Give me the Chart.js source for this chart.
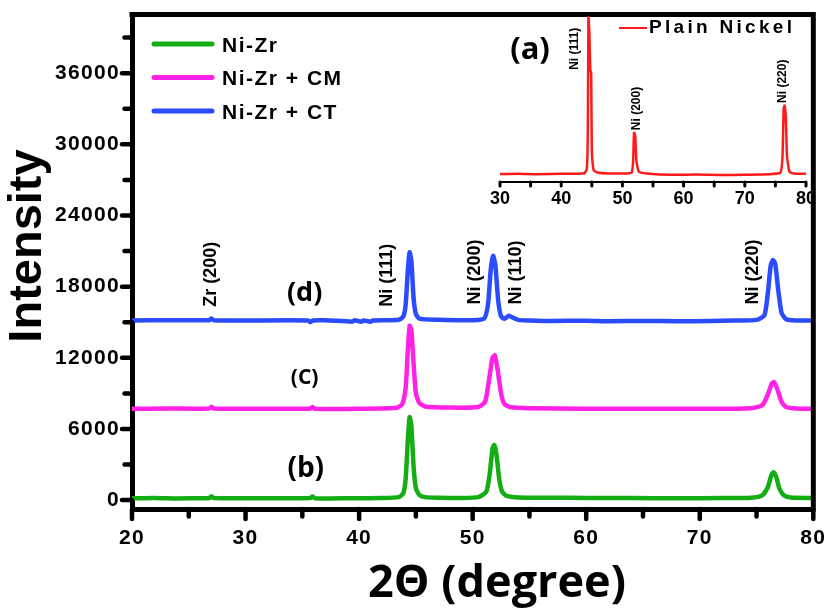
<!DOCTYPE html>
<html>
<head>
<meta charset="utf-8">
<script src="https://cdn.jsdelivr.net/npm/chart.js@4.4.1/dist/chart.umd.min.js"></script>
<style>
  html, body { margin: 0; padding: 0; background: #fff; }
  #wrap { position: relative; width: 832px; height: 616px; }
  #main { position: absolute; left: 0; top: 0; }
  #inset { position: absolute; left: 440px; top: 0; }
</style>
</head>
<body>
<div id="wrap">
  <canvas id="main" width="832" height="616"></canvas>
  <canvas id="inset" width="392" height="220"></canvas>
</div>
<script>
// 2theta / intensity pairs
const niZr = [
  [20, 150], [22, 180], [24, 140], [26, 160], [26.8, 170], [27.0, 330], [27.2, 170],
  [30, 150], [33, 160], [35.7, 170], [35.9, 300], [36.1, 160], [39, 150], [42, 170],
  [43.5, 250], [43.9, 600], [44.1, 1800], [44.3, 5200], [44.45, 7000], [44.6, 6300],
  [44.8, 2800], [45.0, 1000], [45.3, 450], [45.8, 250], [47, 200], [49, 180],
  [50.5, 250], [51.2, 700], [51.5, 2200], [51.75, 4350], [51.9, 4650], [52.1, 3800],
  [52.35, 1700], [52.6, 700], [53.0, 350], [54, 220], [57, 200], [60, 180], [64, 170],
  [68, 160], [72, 170], [74.5, 200], [75.5, 400], [76.0, 1100], [76.3, 2100],
  [76.5, 2350], [76.75, 1900], [77.0, 1000], [77.4, 400], [78, 220], [80, 180]
];
const niZrCM = [
  [20, 7700], [23, 7720], [26.8, 7720], [27.0, 7880], [27.2, 7720], [30, 7700],
  [35.7, 7710], [35.9, 7850], [36.1, 7700], [40, 7700], [43.3, 7780], [43.8, 8100],
  [44.1, 9500], [44.3, 12800], [44.45, 14700], [44.6, 14300], [44.8, 11500],
  [45.0, 9000], [45.3, 8200], [45.8, 7900], [48, 7800], [50.5, 7850], [51.1, 8300],
  [51.45, 10200], [51.75, 12000], [51.95, 12200], [52.2, 11000], [52.5, 9000],
  [52.8, 8100], [53.3, 7850], [55, 7750], [60, 7700], [65, 7700], [70, 7700],
  [74.5, 7750], [75.5, 8000], [76.0, 8900], [76.35, 9850], [76.55, 9950],
  [76.85, 9300], [77.2, 8300], [77.6, 7850], [78.5, 7720], [80, 7700]
];
const niZrCT = [
  [20, 15150], [23, 15170], [26.8, 15170], [27.0, 15320], [27.2, 15160], [30, 15150],
  [35.5, 15150], [35.7, 15000], [35.9, 15150], [37, 15160], [39.4, 15050],
  [39.6, 15160], [40.2, 15040], [40.4, 15150], [41, 15050], [41.2, 15150],
  [43.5, 15200], [43.9, 15500], [44.1, 16500], [44.3, 19500], [44.45, 20900],
  [44.6, 20200], [44.8, 17000], [45.0, 15700], [45.3, 15300], [47, 15200],
  [50, 15170], [51.0, 15300], [51.35, 16500], [51.6, 19500], [51.8, 20600],
  [52.0, 19800], [52.25, 16800], [52.5, 15500], [52.8, 15300], [53.2, 15550],
  [53.5, 15400], [54, 15200], [55, 15150], [57, 15100], [60, 15130], [62, 15080],
  [65, 15110], [68, 15090], [71, 15100], [73, 15140], [75, 15200], [75.7, 15600],
  [76.0, 17500], [76.25, 19800], [76.45, 20250], [76.65, 19900], [76.9, 17800],
  [77.2, 15800], [77.6, 15250], [78.5, 15150], [80, 15150]
];
// inset (a), relative intensity
const plainNickel = [
  [30, 4.7], [33, 4.9], [36, 4.6], [40, 4.8], [43.8, 5.2], [44.2, 8], [44.35, 30],
  [44.45, 97], [44.6, 88], [44.75, 66], [44.9, 64], [45.0, 20], [45.3, 7], [46, 5.5],
  [50, 5.0], [51.5, 5.5], [51.75, 12], [51.9, 29], [52.1, 27], [52.3, 12], [52.7, 6],
  [54, 5], [58, 4.2], [62, 4.4], [66, 4.1], [70, 4.3], [74, 4.6], [75.8, 5.5],
  [76.15, 14], [76.35, 43], [76.5, 45], [76.7, 38], [76.9, 15], [77.3, 6], [78, 5],
  [80, 4.8]
];

const seriesNames = ['Ni-Zr', 'Ni-Zr + CM', 'Ni-Zr + CT'];
const seriesColors = ['#14ad14', '#ff22e6', '#2b4bff'];
const insetName = 'Plain Nickel';
const insetColor = '#ff1a1a';

// tick marks (major + minor) and the ones that carry labels
const xTicks = [20, 25, 30, 35, 40, 45, 50, 55, 60, 65, 70, 75, 80];
const xTickLabels = [20, 30, 40, 50, 60, 70, 80];
const yTicks = [0, 3000, 6000, 9000, 12000, 15000, 18000, 21000, 24000, 27000,
  30000, 33000, 36000, 39000];
const yTickLabels = [0, 6000, 12000, 18000, 24000, 30000, 36000];
const insetTicks = [30, 35, 40, 45, 50, 55, 60, 65, 70, 75, 80];
const insetTickLabels = [30, 40, 50, 60, 70, 80];

// peak labels: [text, 2theta, intensity where text starts]
const mainPeakLabels = [
  ['Zr (200)', 27.0, 16300], ['Ni (111)', 42.5, 16300], ['Ni (200)', 50.2, 16500],
  ['Ni (110)', 53.8, 16500], ['Ni (220)', 74.7, 16500]
];
const curveLabels = [
  ['(d)', 35.2, 17400, 27], ['(C)', 35.2, 10300, 21], ['(b)', 35.3, 2650, 28]
];
const insetPeakLabels = [
  ['Ni (111)', 42.25, 66], ['Ni (200)', 52.4, 30.5], ['Ni (220)', 76.2, 46.5]
];

const boldArial = 'bold 21px "Liberation Sans", Arial, sans-serif';

// thick outward tick marks at the scale's own tick values
function drawTicks(chart, width, len, major) {
  const ctx = chart.ctx;
  const a = chart.chartArea;
  ctx.save();
  ctx.strokeStyle = '#000';
  ctx.lineCap = 'round';
  Object.values(chart.scales).forEach(s => {
    if (!s.options.display) return;
    s.ticks.forEach(t => {
      const p = s.getPixelForValue(t.value);
      const l = major.includes(t.value) ? len : len * 0.75;
      ctx.lineWidth = width;
      ctx.beginPath();
      if (s.isHorizontal()) { ctx.moveTo(p, a.bottom); ctx.lineTo(p, a.bottom + l); }
      else { ctx.moveTo(a.left, p); ctx.lineTo(a.left - l, p); }
      ctx.stroke();
    });
  });
  ctx.restore();
}

const frameAndText = {
  id: 'frameAndText',
  beforeDraw(chart) { chart.ctx.letterSpacing = '1.3px'; },
  afterDraw(chart) {
    const ctx = chart.ctx;
    const a = chart.chartArea;
    const xs = chart.scales.x, ys = chart.scales.y;
    ctx.save();
    ctx.letterSpacing = '0px';
    drawTicks(chart, 4.5, 10, xTickLabels.concat(yTickLabels));
    // top and right frame
    ctx.strokeStyle = '#000';
    ctx.lineWidth = 5;
    ctx.lineCap = 'square';
    ctx.beginPath();
    ctx.moveTo(a.left, a.top);
    ctx.lineTo(a.right, a.top);
    ctx.lineTo(a.right, a.bottom);
    ctx.stroke();

    ctx.fillStyle = '#000';
    // rotated peak labels
    ctx.font = 'bold 18px "Liberation Sans", Arial, sans-serif';
    ctx.textAlign = 'left';
    ctx.textBaseline = 'middle';
    mainPeakLabels.forEach(([t, xv, yv]) => {
      ctx.save();
      ctx.translate(xs.getPixelForValue(xv), ys.getPixelForValue(yv));
      ctx.rotate(-Math.PI / 2);
      ctx.fillText(t, 0, 0);
      ctx.restore();
    });
    // curve labels
    ctx.textAlign = 'center';
    curveLabels.forEach(([t, xv, yv, size]) => {
      ctx.font = 'bold ' + size + 'px "Open Sans", sans-serif';
      ctx.fillText(t, xs.getPixelForValue(xv), ys.getPixelForValue(yv));
    });

    // legend
    ctx.letterSpacing = '1.5px';
    ctx.font = boldArial;
    ctx.textAlign = 'left';
    chart.data.datasets.forEach((ds, i) => {
      const y = 44 + i * 33.5;
      ctx.strokeStyle = ds.borderColor;
      ctx.lineWidth = 5;
      ctx.lineCap = 'round';
      ctx.beginPath();
      ctx.moveTo(154, y);
      ctx.lineTo(212, y);
      ctx.stroke();
      ctx.fillStyle = '#000';
      ctx.fillText(ds.label, 222, y + 2);
    });

    // axis titles
    ctx.letterSpacing = '0px';
    ctx.save();
    ctx.translate(41, 246);
    ctx.rotate(-Math.PI / 2);
    ctx.font = 'bold 47px "Liberation Sans", Arial, sans-serif';
    ctx.textAlign = 'center';
    ctx.textBaseline = 'alphabetic';
    ctx.fillText('Intensity', 0, 0);
    ctx.restore();

    ctx.font = 'bold 45px "Open Sans", sans-serif';
    ctx.textAlign = 'center';
    ctx.textBaseline = 'alphabetic';
    ctx.fillText('2\u0398 (degree)', 497, 597);
    ctx.restore();
  }
};

const tickFont = { family: '"Liberation Sans", Arial, sans-serif', size: 21, weight: 'bold' };
const axisGrid = { drawOnChartArea: false, tickLength: 10, tickColor: 'rgba(0,0,0,0)' };

new Chart(document.getElementById('main'), {
  type: 'line',
  data: {
    datasets: [niZr, niZrCM, niZrCT].map((d, i) => ({
      label: seriesNames[i],
      data: d,
      borderColor: seriesColors[i],
      borderWidth: 4.5,
      pointRadius: 0,
      tension: 0.2,
      borderJoinStyle: 'round',
      borderCapStyle: 'round',
      fill: false
    }))
  },
  options: {
    responsive: false,
    animation: false,
    devicePixelRatio: 1,
    layout: { padding: { top: 6, right: 17, left: 0, bottom: 0 } },
    plugins: { legend: { display: false }, tooltip: { enabled: false } },
    scales: {
      x: {
        type: 'linear', min: 20, max: 80,
        afterFit: s => { s.height = 107; },
        afterBuildTicks: s => { s.ticks = xTicks.map(v => ({ value: v })); },
        ticks: {
          autoSkip: false, maxRotation: 0, color: '#000', padding: 7, font: tickFont,
          callback: v => xTickLabels.includes(v) ? String(v) : ''
        },
        grid: axisGrid,
        border: { display: true, width: 5, color: '#000' }
      },
      y: {
        type: 'linear', min: -750, max: 40940,
        afterFit: s => { s.width = 132; },
        afterBuildTicks: s => { s.ticks = yTicks.map(v => ({ value: v })); },
        ticks: {
          autoSkip: false, color: '#000', padding: 2, font: tickFont,
          callback: v => yTickLabels.includes(v) ? String(v) : ''
        },
        grid: axisGrid,
        border: { display: true, width: 5, color: '#000' }
      }
    }
  },
  plugins: [frameAndText]
});

const insetText = {
  id: 'insetText',
  afterDraw(chart) {
    const ctx = chart.ctx;
    const xs = chart.scales.x, ys = chart.scales.y;
    drawTicks(chart, 3, 4, insetTicks);
    ctx.save();
    ctx.fillStyle = '#000';
    ctx.font = 'bold 12px "Liberation Sans", Arial, sans-serif';
    ctx.textAlign = 'left';
    ctx.textBaseline = 'middle';
    insetPeakLabels.forEach(([t, xv, yv]) => {
      ctx.save();
      ctx.translate(xs.getPixelForValue(xv), ys.getPixelForValue(yv));
      ctx.rotate(-Math.PI / 2);
      ctx.fillText(t, 0, 0);
      ctx.restore();
    });
    ctx.font = 'bold 31px "Open Sans", sans-serif';
    ctx.textAlign = 'center';
    ctx.fillText('(a)', 90, 50);
    // legend
    ctx.strokeStyle = insetColor;
    ctx.lineWidth = 2;
    ctx.beginPath();
    ctx.moveTo(179, 28);
    ctx.lineTo(207, 28);
    ctx.stroke();
    ctx.letterSpacing = '3.3px';
    ctx.font = 'bold 19px "Liberation Sans", Arial, sans-serif';
    ctx.textAlign = 'left';
    ctx.textBaseline = 'alphabetic';
    ctx.fillText(insetName, 209, 33);
    ctx.restore();
  }
};

new Chart(document.getElementById('inset'), {
  type: 'line',
  data: {
    datasets: [{
      label: insetName,
      data: plainNickel,
      borderColor: insetColor,
      borderWidth: 2.5,
      pointRadius: 0,
      tension: 0.15,
      fill: false
    }]
  },
  options: {
    responsive: false,
    animation: false,
    devicePixelRatio: 1,
    layout: { padding: { top: 12, right: 26, left: 60, bottom: 0 } },
    plugins: { legend: { display: false }, tooltip: { enabled: false } },
    scales: {
      x: {
        type: 'linear', min: 30, max: 80,
        afterFit: s => { s.height = 38; },
        afterBuildTicks: s => { s.ticks = insetTicks.map(v => ({ value: v })); },
        ticks: {
          autoSkip: false, maxRotation: 0, color: '#000', padding: 2,
          font: { family: '"Liberation Sans", Arial, sans-serif', size: 18, weight: 'bold' },
          callback: v => insetTickLabels.includes(v) ? String(v) : ''
        },
        grid: { drawOnChartArea: false, tickLength: 4, tickColor: 'rgba(0,0,0,0)' },
        border: { display: true, width: 2, color: '#000' }
      },
      y: { display: false, min: 0, max: 100 }
    }
  },
  plugins: [insetText]
});
</script>
</body>
</html>
